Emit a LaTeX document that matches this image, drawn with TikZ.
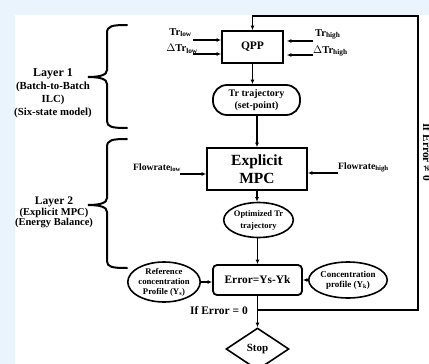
\documentclass[tikz,border=0pt]{standalone}
\usepackage{fontspec}
\setmainfont{Liberation Serif}
\usetikzlibrary{arrows.meta,shapes.geometric}
\definecolor{bgblue}{RGB}{234,244,253}
\newcommand{\fs}[2]{\fontsize{#1}{#2}\selectfont}
\begin{document}
\begin{tikzpicture}[x=1pt,y=-1pt,
  every node/.style={font=\bfseries, inner sep=0pt},
  arr/.style={-{Latex[length=4.5pt,width=4pt]}, line width=1.3pt},
  fbline/.style={line width=1.6pt},
  boxst/.style={draw, line width=1.8pt},
  ell/.style={draw, ellipse, line width=1.6pt, align=center},
  bracest/.style={line width=2pt, line cap=round},
]
\useasboundingbox (0,0) rectangle (429,364);
\fill[bgblue] (0,0) rectangle (429,364);
\fill[white] (15,15) rectangle (429,364);

% main nodes
\node[boxst, minimum width=61, minimum height=32, font=\bfseries\fs{11.5}{13}] (qpp) at (252.5,47) {QPP};
\node[draw, line width=1.8pt, rounded corners=14pt, minimum width=87, minimum height=30, align=center, font=\bfseries\fs{10}{12}] (tr) at (256.5,100) {Tr trajectory\\(set-point)};
\node[boxst, minimum width=100, minimum height=42, align=center, font=\bfseries\fs{15.5}{18}] (mpc) at (257,169) {Explicit\\MPC};
\node[ell, minimum width=65, minimum height=35, font=\bfseries\fs{8.5}{12}] (opt) at (258.5,220) {Optimized Tr\\trajectory};
\node[draw, line width=1.8pt, rounded corners=4pt, minimum width=89, minimum height=30, font=\bfseries\fs{11.4}{13}] (err) at (257.5,280) {Error=Ys-Yk};
\node[ell, minimum width=70, minimum height=40, font=\bfseries\fs{8.7}{10}] (ref) at (164,282) {Reference\\concentration\\Profile (Y\textsubscript{s})};
\node[ell, minimum width=70, minimum height=36, font=\bfseries\fs{9}{10}] (conc) at (348,280) {Concentration\\profile (Y\textsubscript{k})};
\node[draw, diamond, line width=1.6pt, minimum width=63, minimum height=42, aspect=1.5, font=\bfseries\fs{11}{13}] (stop) at (257.5,349) {Stop};

% input labels
\node[anchor=base east, font=\bfseries\fs{10.5}{12}] (trlow) at (192,35) {Tr\textsubscript{low}};
\node[anchor=base east, font=\bfseries\fs{10.5}{12}] (dtrlow) at (198,52) {$\Delta$Tr\textsubscript{low}};
\node[anchor=base west, font=\bfseries\fs{10.5}{12}] (trhigh) at (315,36) {Tr\textsubscript{high}};
\node[anchor=base west, font=\bfseries\fs{10.5}{12}] (dtrhigh) at (313,53) {$\Delta$Tr\textsubscript{high}};
\node[anchor=base west, font=\bfseries\fs{9.7}{12}] (flow) at (133,170) {Flowrate\textsubscript{low}};
\node[anchor=base west, font=\bfseries\fs{9.7}{12}] (fhigh) at (338,169) {Flowrate\textsubscript{high}};

\coordinate (a1) at (193,40);
\coordinate (a2) at (193,54);
\coordinate (a3) at (313,41);
\coordinate (a4) at (313,55);
\coordinate (a5) at (180,174);
\coordinate (a6) at (338,173);
\draw[arr] (a1) -- (a1 -| qpp.west);
\draw[arr] (a2) -- (a2 -| qpp.west);
\draw[arr, shorten >=3pt] (a3) -- (a3 -| qpp.east);
\draw[arr, shorten >=3pt] (a4) -- (a4 -| qpp.east);
\draw[arr] (a5) -- (a5 -| mpc.west);
\draw[arr] (a6) -- (a6 -| mpc.east);

% flow arrows
\draw[arr] (qpp.south) -- (qpp.south |- tr.north);
\draw[arr] (tr.south -| mpc.north) -- (mpc.north);
\draw[arr] (mpc.south) -- (mpc.south |- opt.north);
\draw[arr] (opt.south -| err.north) -- (err.north);
\draw[arr] (ref.east) -- (ref.east -| err.west);
\draw[arr] (conc.west) -- (conc.west -| err.east);
\draw[arr] (err.south) -- (stop.north);

% feedback loop
\coordinate (br) at (257.5,310);
\coordinate (rb) at (418,310);
\coordinate (rt) at (418,16);
\draw[fbline, -{Latex[length=4.5pt,width=4pt]}] (br) -- (rb) -- (rt) -- (rt -| qpp.north) -- (qpp.north);

\node[font=\bfseries\fs{11.5}{13}] (ifz) at (219,311) {If Error = 0};
\node[rotate=-90, anchor=base, font=\bfseries\fs{11.5}{13}] (ifnz) at (423,152) {If Error ≠ 0};

% braces
\draw[bracest] (127,25) .. controls (112,25) and (107,26) .. (107,33) -- (107,70) .. controls (107,75) and (100,77) .. (88,77) .. controls (100,77) and (107,79) .. (107,84) -- (107,121) .. controls (107,127) and (112,128) .. (127,128);
\draw[bracest] (127,139) .. controls (112,139) and (107,140) .. (107,147) -- (107,198) .. controls (107,203) and (100,205) .. (88,205) .. controls (100,205) and (107,207) .. (107,212) -- (107,261) .. controls (107,267) and (112,268) .. (127,268);

% layer labels
\node[align=center, font=\bfseries\fs{10.8}{13}] (l1) at (53,93.5) {{\fs{12}{13}Layer 1}\\(Batch-to-Batch\\ILC)\\(Six-state model)};
\node[align=center, font=\bfseries\fs{10.5}{10.8}] (l2) at (54,212.5) {{\fs{11.5}{10.8}Layer 2}\\(Explicit MPC)\\(Energy Balance)};
\end{tikzpicture}
\end{document}
